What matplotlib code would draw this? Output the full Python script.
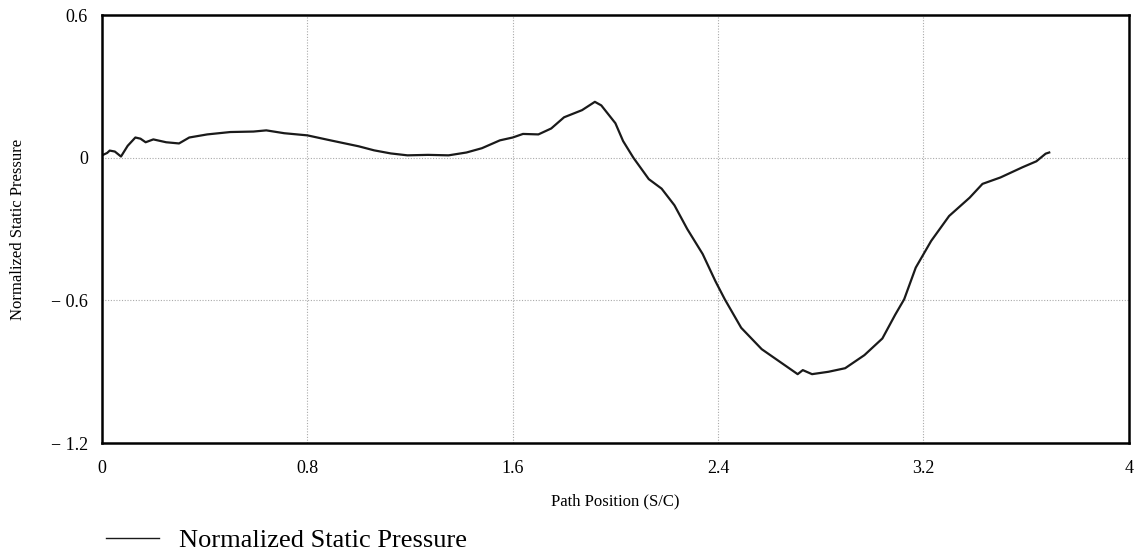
import matplotlib
matplotlib.use("Agg")
import matplotlib.pyplot as plt

# path position (S/C) and normalized static pressure
s_pos = [0.0, 0.02, 0.03, 0.05, 0.074, 0.1, 0.13, 0.15, 0.17, 0.2, 0.25, 0.3,
         0.34, 0.41, 0.5, 0.59, 0.64, 0.71, 0.8, 0.89, 1.0, 1.06, 1.125, 1.19,
         1.27, 1.35, 1.42, 1.48, 1.55, 1.6, 1.64, 1.7, 1.75, 1.8, 1.87, 1.92,
         1.945, 2.0, 2.03, 2.07, 2.13, 2.18, 2.23, 2.28, 2.34, 2.39, 2.426,
         2.49, 2.57, 2.65, 2.71, 2.73, 2.766, 2.83, 2.895, 2.97, 3.04,
         3.09, 3.125, 3.17, 3.23, 3.3, 3.38, 3.43, 3.5, 3.586, 3.64, 3.676, 3.69]
pressure = [0.01, 0.02, 0.03, 0.026, 0.005, 0.05, 0.085, 0.08, 0.065, 0.077,
            0.065, 0.06, 0.085, 0.098, 0.108, 0.11, 0.115, 0.103, 0.094, 0.073,
            0.048, 0.031, 0.018, 0.01, 0.012, 0.01, 0.022, 0.04, 0.073, 0.085,
            0.1, 0.098, 0.123, 0.17, 0.2, 0.235, 0.22, 0.145, 0.07, 0.0, -0.09,
            -0.13, -0.2, -0.3, -0.405, -0.52, -0.595, -0.715, -0.805, -0.865,
            -0.91, -0.893, -0.91, -0.9, -0.885, -0.83, -0.76, -0.66, -0.595,
            -0.462, -0.35, -0.245, -0.168, -0.11, -0.083, -0.04,
            -0.015, 0.017, 0.022]

x_ticks = [0, 0.8, 1.6, 2.4, 3.2, 4]
x_tick_labels = ["0", "0.8", "1.6", "2.4", "3.2", "4"]
y_ticks = [0.6, 0, -0.6, -1.2]
y_tick_labels = ["0.6", "0", "\u2212 0.6", "\u2212 1.2"]

plt.rcParams['font.family'] = ['Liberation Serif', 'DejaVu Serif']

fig = plt.figure(figsize=(11.46, 5.56), dpi=100)
ax = fig.add_axes([0.089, 0.203, 0.896, 0.77])

line, = ax.plot(s_pos, pressure, color="#1a1a1a", lw=1.6,
                label="Normalized Static Pressure")

ax.set_xlim(0, 4)
ax.set_ylim(-1.2, 0.6)
ax.set_xticks(x_ticks)
ax.set_xticklabels(x_tick_labels)
ax.set_yticks(y_ticks)
ax.set_yticklabels(y_tick_labels)
ax.tick_params(length=0, labelsize=13)
ax.tick_params(axis="x", pad=12)
ax.tick_params(axis="y", pad=10)

# dotted grid only at interior ticks
for xv in x_ticks[1:-1]:
    ax.axvline(xv, color="#aaaaaa", lw=0.8, ls=(0, (1, 1.5)), zorder=0)
for yv in y_ticks[1:-1]:
    ax.axhline(yv, color="#aaaaaa", lw=0.8, ls=(0, (1, 1.5)), zorder=0)

for sp in ax.spines.values():
    sp.set_linewidth(1.8)

ax.set_xlabel("Path Position (S/C)", fontsize=12, labelpad=12)
ax.set_ylabel("Normalized Static Pressure", fontsize=12, labelpad=18)

fig.legend(handles=[line], loc="lower left", bbox_to_anchor=(0.072, -0.035),
           frameon=False, fontsize=19, handlelength=2.0, handletextpad=0.75,
           handleheight=0.5)
for lh in fig.legends[0].get_lines():
    lh.set_linewidth(1.0)

fig.savefig("out.png", dpi=100)
